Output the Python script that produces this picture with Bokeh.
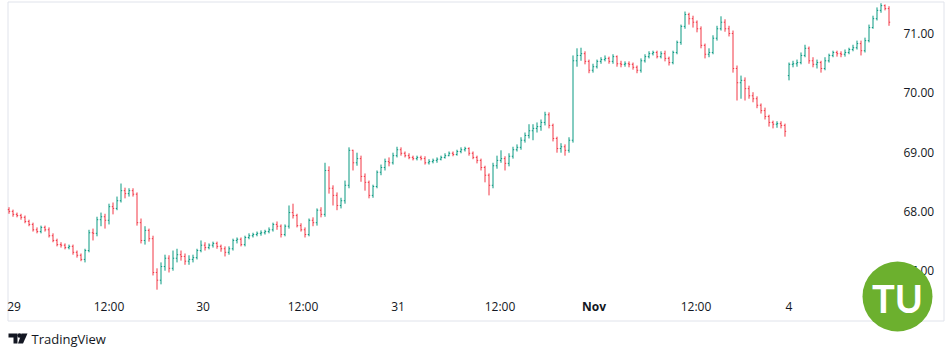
from bokeh.plotting import figure
from bokeh.models import ColumnDataSource, Range1d
from bokeh.embed import file_html
from bokeh.resources import INLINE
from bokeh.core.properties import value

# ---- data: one OHLC bar per period ----
opens = [
    68.03, 68.00, 67.95, 67.93, 67.90, 67.83, 67.78, 67.69, 67.66, 67.73,
    67.69, 67.59, 67.51, 67.44, 67.43, 67.39, 67.41, 67.31, 67.26, 67.19,
    67.34, 67.64, 67.63, 67.86, 67.91, 67.85, 68.08, 68.05, 68.18, 68.35,
    68.30, 68.35, 68.29, 67.81, 67.51, 67.68, 67.54, 66.97, 66.84, 67.07,
    67.21, 67.04, 67.21, 67.27, 67.24, 67.16, 67.19, 67.22, 67.34, 67.43,
    67.39, 67.43, 67.46, 67.41, 67.37, 67.31, 67.37, 67.51, 67.53, 67.44,
    67.56, 67.59, 67.61, 67.63, 67.64, 67.66, 67.69, 67.78, 67.75, 67.61,
    67.75, 67.98, 67.93, 67.76, 67.69, 67.61, 67.85, 67.81, 68.02, 67.95,
    68.69, 68.39, 68.27, 68.10, 68.18, 68.44, 69.03, 68.82, 68.89, 68.59,
    68.49, 68.27, 68.42, 68.66, 68.74, 68.84, 68.82, 68.94, 69.04, 68.98,
    68.94, 68.91, 68.89, 68.91, 68.89, 68.82, 68.84, 68.86, 68.88, 68.91,
    68.94, 68.98, 68.96, 69.01, 69.04, 69.06, 68.98, 68.91, 68.86, 68.74,
    68.61, 68.44, 68.77, 68.86, 68.89, 68.81, 68.93, 69.04, 69.08, 69.20,
    69.28, 69.36, 69.40, 69.43, 69.50, 69.63, 69.45, 69.23, 69.06, 69.09,
    69.03, 69.20, 70.54, 70.63, 70.66, 70.53, 70.38, 70.44, 70.53, 70.56,
    70.58, 70.53, 70.61, 70.49, 70.48, 70.49, 70.48, 70.43, 70.38, 70.54,
    70.61, 70.66, 70.68, 70.61, 70.66, 70.58, 70.51, 70.68, 70.85, 71.12,
    71.32, 71.25, 71.19, 71.08, 70.80, 70.65, 70.68, 70.92, 71.08, 71.19,
    71.08, 71.00, 70.41, 70.17, 70.21, 70.07, 69.95, 69.90, 69.79, 69.70,
    69.60, 69.50, 69.47, 69.48, 69.45, 70.29, 70.48, 70.49, 70.51, 70.63,
    70.75, 70.54, 70.48, 70.51, 70.41, 70.54, 70.63, 70.68, 70.66, 70.65,
    70.68, 70.73, 70.76, 70.83, 70.71, 70.88, 71.10, 71.25, 71.39, 71.47,
    71.42,
]
highs = [
    68.07, 68.03, 67.98, 67.96, 67.93, 67.86, 67.81, 67.73, 67.76, 67.76,
    67.73, 67.63, 67.54, 67.48, 67.46, 67.44, 67.44, 67.34, 67.29, 67.37,
    67.69, 67.71, 67.91, 67.98, 67.96, 68.13, 68.15, 68.25, 68.47, 68.40,
    68.39, 68.39, 68.32, 67.88, 67.75, 67.71, 67.59, 67.04, 67.14, 67.27,
    67.26, 67.34, 67.37, 67.34, 67.29, 67.26, 67.27, 67.37, 67.51, 67.48,
    67.46, 67.49, 67.49, 67.44, 67.41, 67.41, 67.54, 67.56, 67.56, 67.59,
    67.63, 67.64, 67.66, 67.68, 67.69, 67.73, 67.81, 67.83, 67.78, 67.78,
    68.10, 68.13, 67.96, 67.80, 67.73, 67.88, 67.90, 68.05, 68.07, 68.82,
    68.76, 68.44, 68.32, 68.23, 68.52, 69.08, 69.04, 68.99, 68.94, 68.64,
    68.52, 68.45, 68.69, 68.79, 68.89, 68.91, 68.99, 69.09, 69.08, 69.01,
    68.98, 68.94, 68.94, 68.94, 68.93, 68.88, 68.89, 68.91, 68.94, 68.98,
    69.01, 69.01, 69.04, 69.08, 69.09, 69.08, 69.01, 68.94, 68.89, 68.77,
    68.64, 68.82, 68.94, 69.03, 68.93, 68.98, 69.09, 69.13, 69.25, 69.33,
    69.47, 69.47, 69.50, 69.55, 69.68, 69.67, 69.48, 69.26, 69.15, 69.13,
    69.25, 70.63, 70.75, 70.76, 70.70, 70.56, 70.49, 70.56, 70.60, 70.63,
    70.61, 70.65, 70.63, 70.54, 70.53, 70.53, 70.51, 70.46, 70.58, 70.65,
    70.70, 70.71, 70.71, 70.70, 70.71, 70.61, 70.71, 70.88, 71.15, 71.37,
    71.35, 71.30, 71.22, 71.12, 70.83, 70.75, 70.97, 71.13, 71.29, 71.24,
    71.13, 71.05, 70.46, 70.29, 70.26, 70.12, 70.01, 69.94, 69.82, 69.75,
    69.63, 69.53, 69.52, 69.52, 69.48, 70.51, 70.54, 70.56, 70.68, 70.81,
    70.78, 70.60, 70.56, 70.54, 70.60, 70.66, 70.71, 70.71, 70.70, 70.73,
    70.76, 70.81, 70.88, 70.88, 70.93, 71.15, 71.30, 71.44, 71.51, 71.49,
    71.46,
]
lows = [
    67.96, 67.91, 67.90, 67.86, 67.80, 67.75, 67.66, 67.63, 67.63, 67.66,
    67.56, 67.48, 67.41, 67.39, 67.36, 67.36, 67.27, 67.22, 67.16, 67.14,
    67.31, 67.51, 67.58, 67.75, 67.71, 67.78, 67.95, 68.02, 68.15, 68.22,
    68.25, 68.25, 67.76, 67.46, 67.44, 67.49, 66.92, 66.68, 66.77, 67.00,
    66.97, 67.00, 67.14, 67.17, 67.10, 67.10, 67.14, 67.19, 67.31, 67.34,
    67.36, 67.39, 67.37, 67.32, 67.24, 67.27, 67.34, 67.46, 67.41, 67.41,
    67.53, 67.56, 67.58, 67.59, 67.61, 67.63, 67.66, 67.69, 67.56, 67.58,
    67.71, 67.88, 67.73, 67.66, 67.56, 67.58, 67.75, 67.76, 67.90, 67.91,
    68.30, 68.10, 68.02, 68.05, 68.13, 68.39, 68.69, 68.77, 68.50, 68.35,
    68.22, 68.23, 68.39, 68.61, 68.69, 68.76, 68.79, 68.91, 68.94, 68.91,
    68.88, 68.86, 68.86, 68.86, 68.79, 68.79, 68.81, 68.82, 68.86, 68.89,
    68.93, 68.93, 68.94, 68.98, 69.01, 68.94, 68.88, 68.81, 68.69, 68.49,
    68.27, 68.39, 68.72, 68.82, 68.69, 68.76, 68.89, 69.01, 69.04, 69.16,
    69.23, 69.20, 69.33, 69.36, 69.45, 69.40, 69.18, 68.99, 68.99, 68.94,
    68.99, 69.16, 70.44, 70.54, 70.48, 70.33, 70.34, 70.41, 70.49, 70.53,
    70.49, 70.49, 70.44, 70.43, 70.44, 70.43, 70.39, 70.33, 70.34, 70.51,
    70.58, 70.63, 70.58, 70.58, 70.53, 70.46, 70.48, 70.65, 70.81, 71.08,
    71.15, 71.10, 71.02, 70.75, 70.58, 70.60, 70.65, 70.88, 71.05, 71.03,
    70.95, 70.34, 69.87, 69.90, 69.87, 69.90, 69.84, 69.74, 69.65, 69.55,
    69.43, 69.40, 69.41, 69.40, 69.26, 70.21, 70.43, 70.44, 70.48, 70.60,
    70.49, 70.43, 70.41, 70.34, 70.38, 70.51, 70.60, 70.61, 70.60, 70.61,
    70.65, 70.70, 70.73, 70.63, 70.68, 70.85, 71.08, 71.22, 71.35, 71.39,
    71.13,
]
closes = [
    68.00, 67.95, 67.93, 67.90, 67.83, 67.78, 67.69, 67.66, 67.73, 67.69,
    67.59, 67.51, 67.44, 67.43, 67.39, 67.41, 67.31, 67.26, 67.19, 67.34,
    67.64, 67.63, 67.86, 67.91, 67.85, 68.08, 68.05, 68.18, 68.35, 68.30,
    68.35, 68.29, 67.81, 67.51, 67.68, 67.54, 66.97, 66.84, 67.07, 67.21,
    67.04, 67.21, 67.27, 67.24, 67.16, 67.19, 67.22, 67.34, 67.43, 67.39,
    67.43, 67.46, 67.41, 67.37, 67.31, 67.37, 67.51, 67.53, 67.44, 67.56,
    67.59, 67.61, 67.63, 67.64, 67.66, 67.69, 67.78, 67.75, 67.61, 67.75,
    67.98, 67.93, 67.76, 67.69, 67.61, 67.85, 67.81, 68.02, 67.95, 68.69,
    68.39, 68.27, 68.10, 68.18, 68.44, 69.03, 68.82, 68.89, 68.59, 68.49,
    68.27, 68.42, 68.66, 68.74, 68.84, 68.82, 68.94, 69.04, 68.98, 68.94,
    68.91, 68.89, 68.91, 68.89, 68.82, 68.84, 68.86, 68.88, 68.91, 68.94,
    68.98, 68.96, 69.01, 69.04, 69.06, 68.98, 68.91, 68.86, 68.74, 68.61,
    68.44, 68.77, 68.86, 68.89, 68.81, 68.93, 69.04, 69.08, 69.20, 69.28,
    69.36, 69.40, 69.43, 69.50, 69.63, 69.45, 69.23, 69.06, 69.09, 69.03,
    69.20, 70.54, 70.63, 70.66, 70.53, 70.38, 70.44, 70.53, 70.56, 70.58,
    70.53, 70.61, 70.49, 70.48, 70.49, 70.48, 70.43, 70.38, 70.54, 70.61,
    70.66, 70.68, 70.61, 70.66, 70.58, 70.51, 70.68, 70.85, 71.12, 71.32,
    71.25, 71.19, 71.08, 70.80, 70.65, 70.68, 70.92, 71.08, 71.19, 71.08,
    71.00, 70.41, 70.17, 70.21, 70.07, 69.95, 69.90, 69.79, 69.70, 69.60,
    69.50, 69.47, 69.48, 69.45, 69.35, 70.48, 70.49, 70.51, 70.63, 70.75,
    70.54, 70.48, 70.51, 70.41, 70.54, 70.63, 70.68, 70.66, 70.65, 70.68,
    70.73, 70.76, 70.83, 70.71, 70.88, 71.10, 71.25, 71.39, 71.47, 71.42,
    71.19,
]
assert len(opens) == len(highs) == len(lows) == len(closes), (len(opens), len(highs), len(lows), len(closes))

price_ticks = [67.0, 68.0, 69.0, 70.0, 71.0]
price_labels = ["67.00", "68.00", "69.00", "70.00", "71.00"]
time_ticks = [1.25, 25, 48.5, 73.5, 97.25, 122.75, 146.25, 171.75, 195]
time_labels = ["29", "12:00", "30", "12:00", "31", "12:00", "Nov", "12:00", "4"]

# ---- layout (pixel geometry of the page) ----
W, H = 952, 351
BAR_PX = 4.0          # horizontal pixels per bar
X0_PX = 8.5           # pixel of the first bar
PX_PER_UNIT = 59.3    # vertical pixels per 1.00 of price
REF_PX, REF_PRICE = 33.0, 71.0

def xd(px):
    return (px - X0_PX) / BAR_PX

def yd(py):
    return REF_PRICE - (py - REF_PX) / PX_PER_UNIT

UP, DOWN = "#089981", "#f23645"
TEXT = "#131722"
FONT = value("Open Sans")

p = figure(width=W, height=H, output_backend="svg", toolbar_location=None,
           x_range=Range1d(xd(0), xd(W)), y_range=Range1d(yd(H), yd(0)),
           x_axis_location=None, y_axis_location=None,
           min_border_left=0, min_border_right=0, min_border_top=0, min_border_bottom=0)
p.grid.visible = False
p.outline_line_color = None
p.background_fill_color = "white"
p.border_fill_color = "white"

# outer chart border
p.quad(left=[xd(7.5)], right=[xd(943.5)], top=[yd(1.5)], bottom=[yd(320.5)],
       fill_color=None, line_color="#e0e3eb", line_width=1)

# OHLC bars
n = len(closes)
idx = list(range(n))
tick = 0.3
colors = [UP if c >= o else DOWN for o, c in zip(opens, closes)]
src = ColumnDataSource(dict(
    x=idx, o=opens, h=highs, l=lows, c=closes, color=colors,
    xl=[i - tick for i in idx], xr=[i + tick for i in idx],
))
p.segment(x0="x", y0="l", x1="x", y1="h", color="color", line_width=1, source=src)
p.segment(x0="xl", y0="o", x1="x", y1="o", color="color", line_width=1, source=src)
p.segment(x0="x", y0="c", x1="xr", y1="c", color="color", line_width=1, source=src)

# price scale labels
p.text(x=[xd(903)] * len(price_ticks), y=price_ticks, text=price_labels,
       text_font=FONT, text_font_size="12px", text_color=TEXT,
       text_align="left", text_baseline="middle")

# time scale labels (month names bold, like TradingView)
norm = [(t, s) for t, s in zip(time_ticks, time_labels) if not s.isalpha()]
bold = [(t, s) for t, s in zip(time_ticks, time_labels) if s.isalpha()]
p.text(x=[t for t, _ in norm], y=[yd(306)] * len(norm), text=[s for _, s in norm],
       text_font=FONT, text_font_size="12px", text_color=TEXT,
       text_align="center", text_baseline="middle")
p.text(x=[t for t, _ in bold], y=[yd(306)] * len(bold), text=[s for _, s in bold],
       text_font=FONT, text_font_size="12px", text_font_style="bold", text_color=TEXT,
       text_align="center", text_baseline="middle")

# TU watermark logo
p.scatter(x=[xd(897)], y=[yd(296)], size=70, marker="circle",
          fill_color="#6cb02e", line_color=None)
p.text(x=[xd(897)], y=[yd(297)], text=["TU"], text_font=value("Lato"),
       text_font_size="38px", text_font_style="bold", text_color="white",
       text_align="center", text_baseline="middle")

# TradingView attribution
p.patches(xs=[[xd(8), xd(17), xd(17), xd(13), xd(13), xd(8)],
              [xd(21), xd(27), xd(22.5), xd(17.5)]],
          ys=[[yd(333), yd(333), yd(343), yd(343), yd(337), yd(337)],
              [yd(333), yd(333), yd(343), yd(343)]],
          fill_color=TEXT, line_color=None)
p.scatter(x=[xd(19)], y=[yd(335)], size=4.5, marker="circle", fill_color=TEXT, line_color=None)
p.text(x=[xd(31)], y=[yd(338.5)], text=["TradingView"], text_font=FONT,
       text_font_size="13px", text_color=TEXT, text_align="left", text_baseline="middle")

open("out.html", "w").write(file_html(p, INLINE))
